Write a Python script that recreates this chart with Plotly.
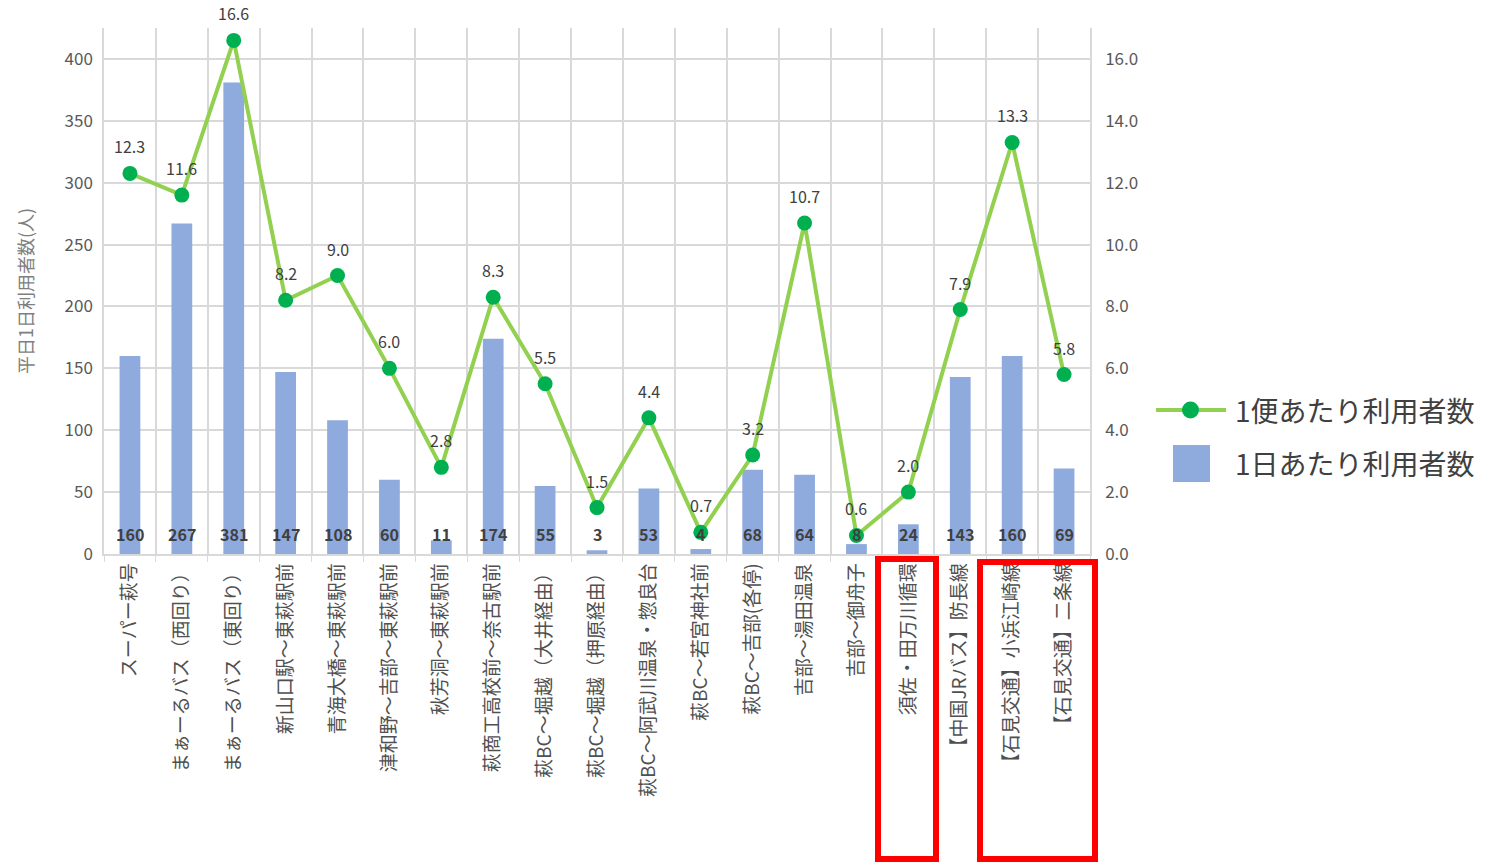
import plotly.graph_objects as go

categories = [
    "スーパー萩号", "まぁーるバス（西回り）", "まぁーるバス（東回り）", "新山口駅～東萩駅前",
    "青海大橋～東萩駅前", "津和野～吉部～東萩駅前", "秋芳洞～東萩駅前", "萩商工高校前～奈古駅前",
    "萩BC～堀越（大井経由）", "萩BC～堀越（押原経由）", "萩BC～阿武川温泉・惣良台", "萩BC～若宮神社前",
    "萩BC～吉部(各停)", "吉部～湯田温泉", "吉部～御舟子", "須佐・田万川循環",
    "【中国JRバス】防長線", "【石見交通】小浜江崎線", "【石見交通】二条線",
]
daily_users = [160, 267, 381, 147, 108, 60, 11, 174, 55, 3, 53, 4, 68, 64, 8, 24, 143, 160, 69]
per_trip_users = [12.3, 11.6, 16.6, 8.2, 9.0, 6.0, 2.8, 8.3, 5.5, 1.5, 4.4, 0.7, 3.2, 10.7, 0.6, 2.0, 7.9, 13.3, 5.8]
left_ticks = [0, 50, 100, 150, 200, 250, 300, 350, 400]
right_ticks = [0, 2, 4, 6, 8, 10, 12, 14, 16]
series_names = ["1便あたり利用者数", "1日あたり利用者数"]

FONT = "Noto Sans CJK JP"
BAR_COLOR = "#8FAADC"
LINE_COLOR = "#92D050"
MARKER_COLOR = "#00B050"
W, H = 1488, 863
ML, MR, MT, MB = 104, 398, 28, 309
PW, PH = W - ML - MR, H - MT - MB


def px_x(p):
    return (p - ML) / PW


def px_y(p):
    return (H - MB - p) / PH


fig = go.Figure()
fig.add_trace(go.Bar(
    x=categories, y=daily_users, name=series_names[1],
    marker=dict(color=BAR_COLOR, line=dict(width=0)), width=0.4,
    showlegend=False,
))
fig.add_trace(go.Scatter(
    x=categories, y=per_trip_users, name=series_names[0], yaxis="y2",
    mode="lines+markers",
    line=dict(color=LINE_COLOR, width=4),
    marker=dict(color=MARKER_COLOR, size=15),
    showlegend=False,
))

annotations = []
for c, v in zip(categories, per_trip_users):
    annotations.append(dict(
        x=c, y=v, xref="x", yref="y2", text=f"{v:.1f}", showarrow=False,
        yshift=27, font=dict(family=FONT, size=16, color="#404040"),
    ))
for c, v in zip(categories, daily_users):
    annotations.append(dict(
        x=c, y=0, xref="x", yref="y", text=f"<b>{v}</b>", showarrow=False,
        yshift=20, font=dict(family=FONT, size=16, color="#404040"),
    ))

# manual legend (larger symbols than plotly's built-in legend allows)
annotations += [
    dict(x=px_x(1233), y=px_y(410), xref="paper", yref="paper", text=series_names[0],
         showarrow=False, xanchor="left", yanchor="middle",
         font=dict(family=FONT, size=28, color="#404040")),
    dict(x=px_x(1233), y=px_y(463), xref="paper", yref="paper", text=series_names[1],
         showarrow=False, xanchor="left", yanchor="middle",
         font=dict(family=FONT, size=28, color="#404040")),
]

shapes = [
    dict(type="line", xref="paper", yref="paper",
         x0=px_x(1156), x1=px_x(1226), y0=px_y(410), y1=px_y(410),
         line=dict(color=LINE_COLOR, width=4)),
    dict(type="circle", xref="paper", yref="paper",
         x0=px_x(1182), x1=px_x(1199), y0=px_y(401.5), y1=px_y(418.5),
         fillcolor=MARKER_COLOR, line=dict(color=MARKER_COLOR, width=0)),
    dict(type="rect", xref="paper", yref="paper",
         x0=px_x(1173), x1=px_x(1210), y0=px_y(445), y1=px_y(482),
         fillcolor=BAR_COLOR, line=dict(width=0)),
    dict(type="rect", xref="paper", yref="paper",
         x0=px_x(878), x1=px_x(936), y0=px_y(559), y1=px_y(859),
         line=dict(color="#FF0000", width=6)),
    dict(type="rect", xref="paper", yref="paper",
         x0=px_x(980), x1=px_x(1095), y0=px_y(562), y1=px_y(859),
         line=dict(color="#FF0000", width=6)),
]

fig.update_layout(
    width=W, height=H,
    margin=dict(l=ML, r=MR, t=MT, b=MB, autoexpand=False),
    paper_bgcolor="white", plot_bgcolor="white",
    font=dict(family=FONT, color="#595959"),
    showlegend=False,
    xaxis=dict(
        type="category", range=[-0.5, len(categories) - 0.5],
        tickson="boundaries", showgrid=True, automargin=False,
        gridcolor="#D9D9D9", gridwidth=1.5,
        ticks="outside", ticklen=6, tickcolor="#D9D9D9",
        tickangle=-90, tickfont=dict(family=FONT, size=19, color="#505050"),
        showline=True, linecolor="#D9D9D9", linewidth=1.5,
    ),
    yaxis=dict(
        range=[0, 425], tickvals=left_ticks, showgrid=True, automargin=False,
        gridcolor="#D9D9D9", gridwidth=1.5, zeroline=False,
        tickfont=dict(family=FONT, size=17, color="#595959"),
        title=dict(text="平日1日利用者数(人)", font=dict(family=FONT, size=18, color="#7F7F7F"), standoff=26),
        showline=True, linecolor="#D9D9D9", linewidth=1.5,
        ticks="", ticklabelstandoff=6,
    ),
    yaxis2=dict(
        range=[0, 17], tickvals=right_ticks, tickformat=".1f", automargin=False,
        overlaying="y", side="right", showgrid=False, zeroline=False,
        tickfont=dict(family=FONT, size=17, color="#595959"),
        showline=True, linecolor="#D9D9D9", linewidth=1.5,
        ticks="", ticklabelstandoff=10,
    ),
    shapes=shapes,
    annotations=annotations,
)

fig.write_html(
    "out.html",
    config={"displayModeBar": False},
    post_script="document.body.style.margin='0';document.body.style.overflow='hidden';",
)
